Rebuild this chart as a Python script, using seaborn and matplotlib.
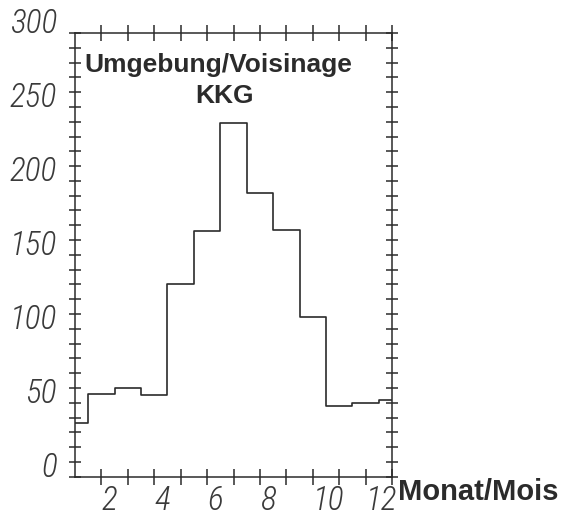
import matplotlib
matplotlib.use("Agg")
import matplotlib.pyplot as plt
import matplotlib.transforms as mtransforms
import seaborn as sns
import pandas as pd

# ---- data ----
months = [0, 1, 2, 3, 4, 5, 6, 7, 8, 9, 10, 11, 12]
values = [36, 56, 60, 55, 130, 166, 239, 192, 167, 108, 48, 50, 52]
ytick_values = [0, 50, 100, 150, 200, 250, 300]
ytick_labels = ["0", "50", "100", "150", "200", "250", "300"]
xtick_values = [2, 4, 6, 8, 10, 12]
xtick_labels = ["2", "4", "6", "8", "10", "12"]
title_line1 = "Umgebung/Voisinage"
title_line2 = "KKG"
xlabel_text = "Monat/Mois"

sns.set_style("white")
plt.rcParams["font.family"] = ["Liberation Sans", "DejaVu Sans"]

ink = "#2b2b2b"
df = pd.DataFrame({"month": months, "value": values})

fig = plt.figure(figsize=(5.62, 5.18), dpi=100)
ax = fig.add_axes([75 / 562, 1 - 476.7 / 518, (392 - 75) / 562, (476.7 - 33) / 518])

sns.lineplot(data=df, x="month", y="value", drawstyle="steps-mid",
             color=ink, linewidth=1.2, ax=ax, estimator=None)

ax.set_xlim(0, 12)
ax.set_ylim(0, 300)

for s in ax.spines.values():
    s.set_visible(True)
    s.set_color(ink)
    s.set_linewidth(1.1)

# ticks
ax.set_xticks(list(range(1, 13)))
ax.set_xticklabels([xtick_labels[xtick_values.index(m)] if m in xtick_values else ""
                    for m in range(1, 13)])
ax.set_yticks(list(range(0, 301, 10)))
ax.set_yticklabels([ytick_labels[ytick_values.index(v)] if v in ytick_values else ""
                    for v in range(0, 301, 10)])

ax.tick_params(axis="x", which="both", direction="inout", length=11.5, width=1.1,
               color=ink, top=True, bottom=True, labeltop=False, pad=0)
ax.tick_params(axis="y", which="both", direction="inout", length=8, width=1.1,
               color=ink, left=True, right=True, labelright=False, pad=9)

num_family = ["Roboto Condensed", "Open Sans Condensed", "Roboto", "DejaVu Sans"]
for lab in ax.get_yticklabels():
    lab.set_fontfamily(num_family)
    lab.set_fontstyle("italic")
    lab.set_fontweight("light")
    lab.set_fontstretch("condensed")
    lab.set_fontsize(24)
    lab.set_color("#3a3a3a")
    lab.set_verticalalignment("baseline")

shift = mtransforms.ScaledTranslation(-26.4 / 100, 0, fig.dpi_scale_trans)
for lab in ax.get_xticklabels():
    lab.set_fontfamily(num_family)
    lab.set_fontstyle("italic")
    lab.set_fontweight("light")
    lab.set_fontstretch("condensed")
    lab.set_fontsize(24)
    lab.set_color("#3a3a3a")
    lab.set_horizontalalignment("left")
    lab.set_transform(lab.get_transform() + shift)

ax.set_xlabel("")
ax.set_ylabel("")

# titles
ax.text(0.453, 0.912, title_line1, transform=ax.transAxes, ha="center", va="baseline",
        fontsize=19, fontweight="bold", color=ink, family=["Liberation Sans", "DejaVu Sans"])
ax.text(0.473, 0.842, title_line2, transform=ax.transAxes, ha="center", va="baseline",
        fontsize=19, fontweight="bold", color=ink, family=["Liberation Sans", "DejaVu Sans"])
ax.text(1.019, -0.0525, xlabel_text, transform=ax.transAxes, ha="left", va="baseline",
        fontsize=21, fontweight="bold", color=ink, family=["Liberation Sans", "DejaVu Sans"],
        clip_on=False)

fig.savefig("out.png", dpi=100)
